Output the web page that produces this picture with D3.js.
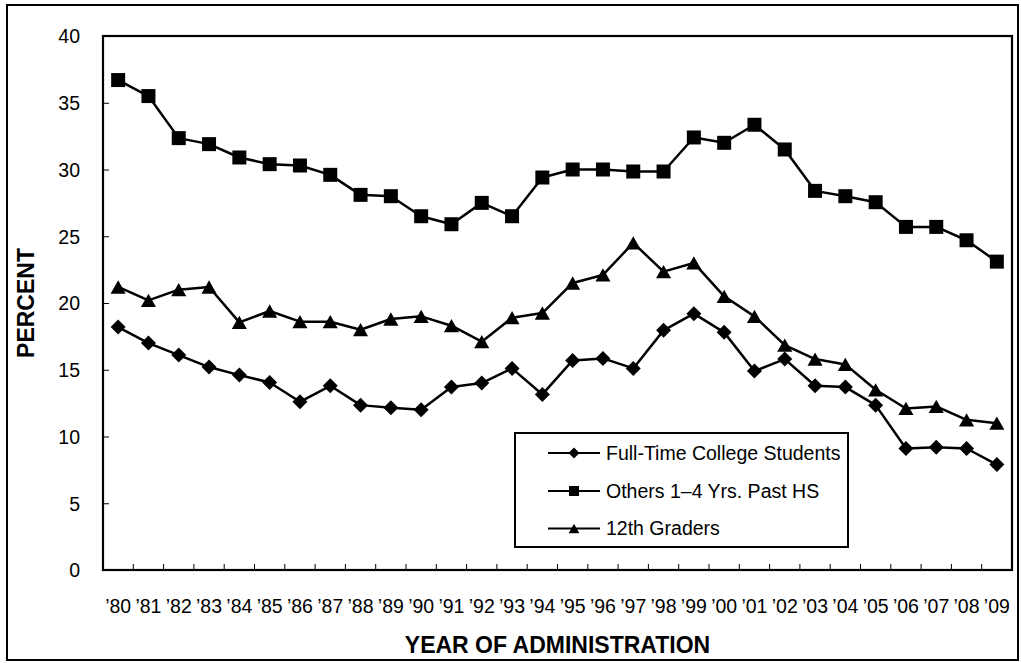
<!DOCTYPE html>
<html><head><meta charset="utf-8">
<script src="https://cdn.jsdelivr.net/npm/d3@7"></script>
<style>body{margin:0;background:#fff}text{font-family:"Liberation Sans",Arial,sans-serif;fill:#000}</style>
</head><body><svg id="c" width="1021" height="663"></svg>
<script>
const years = ["’80","’81","’82","’83","’84","’85","’86","’87","’88","’89","’90","’91","’92","’93","’94","’95","’96","’97","’98","’99","’00","’01","’02","’03","’04","’05","’06","’07","’08","’09"];
const college = [18.2,17.0,16.1,15.2,14.6,14.05,12.6,13.8,12.35,12.15,12.0,13.7,14.0,15.1,13.15,15.7,15.85,15.1,17.95,19.2,17.8,14.9,15.8,13.8,13.7,12.35,9.1,9.2,9.1,7.9];
const others = [36.7,35.5,32.35,31.9,30.9,30.4,30.3,29.6,28.1,28.0,26.5,25.9,27.5,26.5,29.4,30.0,30.0,29.85,29.85,32.4,32.0,33.35,31.5,28.4,28.0,27.55,25.7,25.7,24.7,23.1];
const grade12 = [21.2,20.2,21.0,21.2,18.55,19.4,18.6,18.6,18.0,18.8,19.0,18.3,17.1,18.9,19.25,21.5,22.1,24.5,22.35,23.0,20.5,19.0,16.85,15.8,15.4,13.5,12.1,12.25,11.25,11.0];
const yTicks = [0,5,10,15,20,25,30,35,40];
const seriesNames = ["Full-Time College Students","Others 1–4 Yrs. Past HS","12th Graders"];
const seriesShapes = ["diamond","square","triangle"];

const svg = d3.select("#c");
const L=103,R=1012,T=36,B=570;
const x = d3.scaleBand().domain(years).range([L,R]).padding(0);
const y = d3.scaleLinear().domain([0,40]).range([B,T]);

// outer frame
svg.append("rect").attr("x",7).attr("y",5).attr("width",1011).attr("height",655)
  .attr("fill","none").attr("stroke","#000").attr("stroke-width",2);

// plot frame
svg.append("rect").attr("x",L).attr("y",T).attr("width",R-L).attr("height",B-T)
  .attr("fill","none").attr("stroke","#000").attr("stroke-width",2.2);

// y axis
const ya = svg.append("g").attr("transform",`translate(${L},0)`)
  .call(d3.axisLeft(y).tickValues(yTicks).tickSize(-6).tickPadding(23).tickFormat(d3.format("d")));
ya.select(".domain").remove();
ya.selectAll("line").attr("stroke","#000").attr("stroke-width",1);
ya.selectAll("text").style("font-size","19.5px").attr("dy","0.35em");

// x axis
const xa = svg.append("g").attr("transform",`translate(0,${B})`)
  .call(d3.axisBottom(x).tickSize(0).tickPadding(36));
xa.select(".domain").remove();
xa.selectAll("text").style("font-size","19.5px").attr("dy","0.35em");
// category separators (inside ticks)
const sep = years.slice(1).map(d=>x(d));
svg.append("g").selectAll("line").data(sep).join("line")
  .attr("x1",d=>d).attr("x2",d=>d).attr("y1",B).attr("y2",B-6)
  .attr("stroke","#000").attr("stroke-width",1);

// axis titles
svg.append("text").attr("transform","translate(34,303) rotate(-90)")
  .attr("text-anchor","middle").style("font-size","23px").style("font-weight","bold").text("PERCENT");
svg.append("text").attr("x",(L+R)/2).attr("y",653)
  .attr("text-anchor","middle").style("font-size","23px").style("font-weight","bold").text("YEAR OF ADMINISTRATION");

function shapePath(kind, s){
  if(kind==="square") return `M${-s/2},${-s/2}h${s}v${s}h${-s}Z`;
  if(kind==="diamond") return `M0,${-s/2}L${s/2},0L0,${s/2}L${-s/2},0Z`;
  const w=s*1.08, h=s*0.95;
  return `M0,${-h/2}L${w/2},${h/2}L${-w/2},${h/2}Z`;
}

const line = d3.line().x((d,i)=>x(years[i])+x.bandwidth()/2).y(d=>y(d));
const allSeries = [college, others, grade12];
const sizes = [15,14,14];
allSeries.forEach((vals,k)=>{
  svg.append("path").datum(vals).attr("d",line).attr("fill","none")
    .attr("stroke","#000").attr("stroke-width",2.5).attr("stroke-linejoin","round");
  svg.append("g").selectAll("path").data(vals).join("path")
    .attr("transform",(d,i)=>`translate(${x(years[i])+x.bandwidth()/2},${y(d)})`)
    .attr("d",shapePath(seriesShapes[k],sizes[k])).attr("fill","#000");
});

// legend
const lg = svg.append("g");
lg.append("rect").attr("x",515).attr("y",433).attr("width",333).attr("height",114)
  .attr("fill","#fff").attr("stroke","#000").attr("stroke-width",2);
const rowY = [453,491,528.5];
const legSizes=[11,10,10];
seriesNames.forEach((n,k)=>{
  lg.append("line").attr("x1",548).attr("x2",600).attr("y1",rowY[k]).attr("y2",rowY[k])
    .attr("stroke","#000").attr("stroke-width",2);
  lg.append("path").attr("transform",`translate(574,${rowY[k]})`).attr("d",shapePath(seriesShapes[k],legSizes[k])).attr("fill","#000");
  lg.append("text").attr("x",606).attr("y",rowY[k]).attr("dy","0.35em").style("font-size","19.5px").text(n);
});
</script></body></html>
